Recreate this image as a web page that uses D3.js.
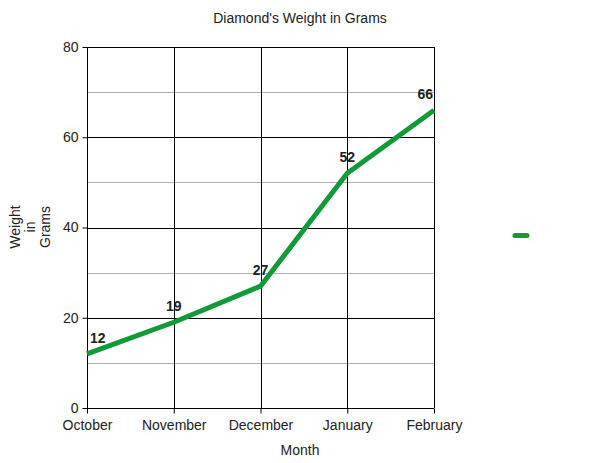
<!DOCTYPE html>
<html><head><meta charset="utf-8">
<script src="https://cdn.jsdelivr.net/npm/d3@7"></script>
<style>body{margin:0;background:#fff}text{font-family:Arial,"Liberation Sans",sans-serif}</style>
</head><body><svg id="c" width="600" height="463"></svg>
<script>
const months = ["October","November","December","January","February"];
const weights = [12,19,27,52,66];
const yTicks = [0,20,40,60,80];
const yMinor = [10,30,50,70];
const title = "Diamond's Weight in Grams";
const xTitle = "Month";
const yTitleLines = ["Weight","in","Grams"];
const seriesColor = "#109a38";

const svg = d3.select("#c");
const m = {l:87, r:434, t:47, b:408};
const x = d3.scalePoint().domain(months).range([m.l, m.r]);
const y = d3.scaleLinear().domain([0,80]).range([m.b, m.t]);

svg.append("g").selectAll("line").data(yMinor).join("line")
  .attr("x1",m.l).attr("x2",m.r).attr("y1",d=>Math.round(y(d))+0.5).attr("y2",d=>Math.round(y(d))+0.5)
  .attr("stroke","#b0b0b0").attr("stroke-width",1);
svg.append("g").selectAll("line").data(yTicks).join("line")
  .attr("x1",m.l).attr("x2",m.r).attr("y1",d=>Math.round(y(d))+0.5).attr("y2",d=>Math.round(y(d))+0.5)
  .attr("stroke","#000").attr("stroke-width",1);
svg.append("g").selectAll("line").data(months).join("line")
  .attr("x1",d=>Math.round(x(d))+0.5).attr("x2",d=>Math.round(x(d))+0.5).attr("y1",m.t).attr("y2",m.b)
  .attr("stroke","#000").attr("stroke-width",1);

const yAxis = d3.axisLeft(y).tickValues(yTicks).tickSize(5).tickPadding(4);
const gy = svg.append("g").attr("transform",`translate(${m.l+0.5},0)`).call(yAxis);
gy.select(".domain").remove();
gy.selectAll("text").attr("font-size",14).attr("fill","#222").style("font-family","Arial, Liberation Sans, sans-serif");
const xAxis = d3.axisBottom(x).tickSize(5).tickPadding(7);
const gx = svg.append("g").attr("transform",`translate(0,${m.b+0.5})`).call(xAxis);
gx.select(".domain").remove();
gx.selectAll("text").attr("font-size",14).attr("fill","#222").style("font-family","Arial, Liberation Sans, sans-serif");

const data = months.map((mo,i)=>({mo, v:weights[i]}));
svg.append("path").datum(data)
  .attr("fill","none").attr("stroke",seriesColor).attr("stroke-width",5).attr("stroke-linejoin","round")
  .attr("d", d3.line().x(d=>x(d.mo)).y(d=>y(d.v)));

svg.append("g").selectAll("text").data(data).join("text")
  .attr("x",(d,i)=> i===0 ? x(d.mo)+3 : (i===data.length-1 ? x(d.mo)-1 : x(d.mo)))
  .attr("text-anchor",(d,i)=> i===0 ? "start" : (i===data.length-1 ? "end" : "middle"))
  .attr("y",d=>y(d.v)-11)
  .attr("font-size",14).attr("font-weight","bold").attr("fill","#222")
  .text(d=>d.v);

svg.append("text").attr("x",300).attr("y",23).attr("text-anchor","middle").attr("font-size",14).attr("fill","#222").text(title);
svg.append("text").attr("x",300).attr("y",455).attr("text-anchor","middle").attr("font-size",14).attr("fill","#222").text(xTitle);
const yt = svg.append("text").attr("transform","translate(0,227) rotate(-90)").attr("text-anchor","middle").attr("font-size",14).attr("fill","#222");
yTitleLines.forEach((t,i)=> yt.append("tspan").attr("x",0).attr("y",20+i*15).text(t));

svg.append("line").attr("x1",515).attr("x2",527).attr("y1",235.5).attr("y2",235.5)
  .attr("stroke",seriesColor).attr("stroke-width",5).attr("stroke-linecap","round");
</script></body></html>
